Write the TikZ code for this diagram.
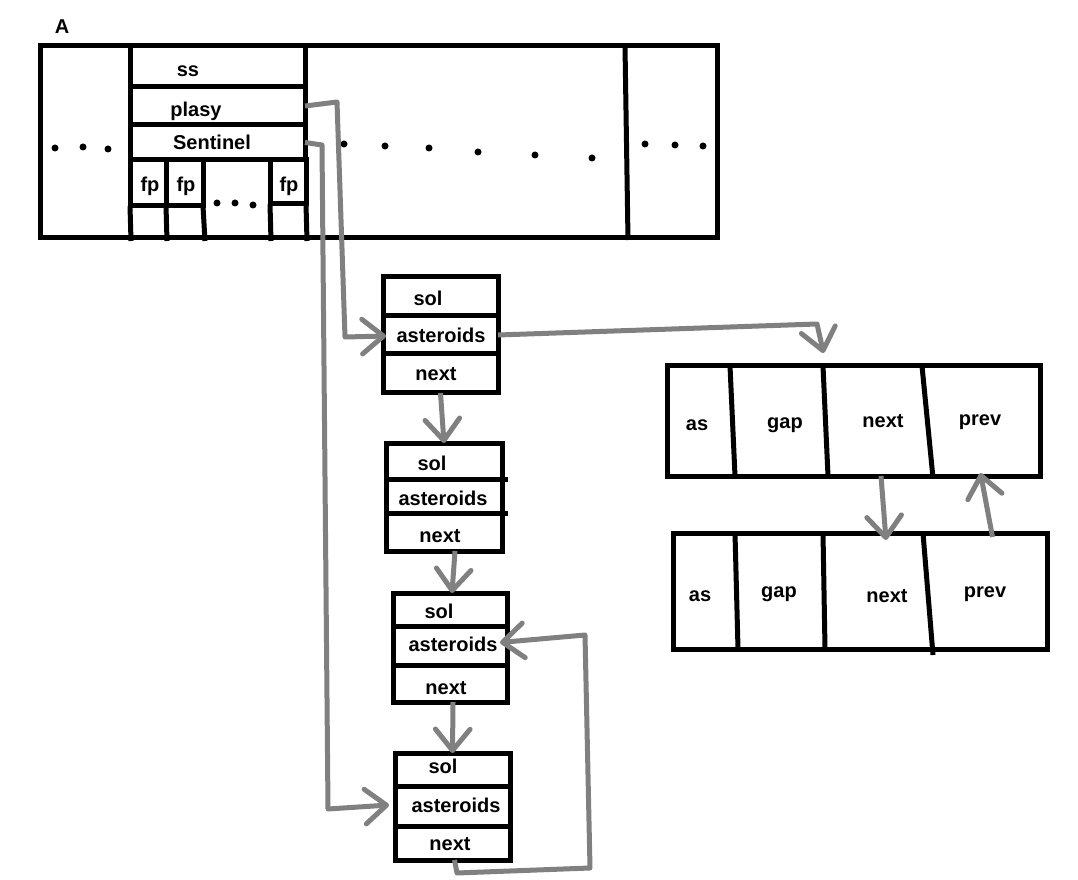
\documentclass[tikz,border=0pt]{standalone}
\usepackage{fontspec}
\setmainfont{Liberation Sans}
\usetikzlibrary{arrows.meta,calc,fit}
\definecolor{arrowgray}{RGB}{128,128,128}
\begin{document}
\begin{tikzpicture}[x=0.75pt,y=-0.75pt,
  cellbox/.style={draw=black, line width=3.75pt, inner sep=0pt, outer sep=0pt},
  ghost/.style={inner sep=0pt, outer sep=0pt},
  blk/.style={draw=black, line width=3.75pt},
  lbl/.style={font=\fontsize{15}{18}\selectfont\bfseries, anchor=base, inner sep=0pt},
  conn/.style={draw=arrowgray, line width=3.75pt, line join=round, -{Straight Barb[length=16pt,width=26pt,round]}},
  blackdot/.style={fill=black, circle, inner sep=0pt, minimum size=5.25pt}
]
\useasboundingbox (0,0) rectangle (1078,880);

% ---------- big structure A ----------
\node[cellbox, fit={(40,46)(717,238)}] (A) {};
\node[cellbox, fit={(130,46)(305,87)}] (ss) {};
\node[cellbox, fit={(130,87)(305,125)}] (plasy) {};
\node[cellbox, fit={(130,125)(305,160)}] (sent) {};
\node[cellbox, fit={(130,160)(166,206)}] (fp1) {};
\node[cellbox, fit={(166,160)(203,206)}] (fp2) {};
\node[cellbox, fit={(270,160)(306,204)}] (fp3) {};
\draw[blk] (130,206)--(131,241) (166,206)--(167,241) (203,206)--(205,241)
           (270,204)--(271,241) (306,204)--(307,241);
\draw[blk] (625,46)--(628,240);

\node[lbl] (tA) at (62,34) {A};
\node[lbl] (tss) at (188,77) {ss};
\node[lbl] (tplasy) at (196,117) {plasy};
\node[lbl] (tsent) at (212,150) {Sentinel};
\node[lbl] (tfp1) at (150,192) {fp};
\node[lbl] (tfp2) at (186,192) {fp};
\node[lbl] (tfp3) at (289,192) {fp};

\foreach \p [count=\i] in {(55,148),(83,147),(108,149),(217,203),(235,203),(253,205),
  (344,144),(385,146),(429,148),(478,152),(535,155),(592,158),(645,144),(675,145),(703,146)}
  \node[blackdot] (d\i) at \p {};

% ---------- list nodes ----------
\node[cellbox, fit={(383,277)(498,316)}] (n1s) {};
\node[cellbox, fit={(383,316)(498,354)}] (n1a) {};
\node[cellbox, fit={(383,354)(498,393)}] (n1n) {};
\node[lbl] (t1s) at (428,306) {sol};
\node[lbl] (t1a) at (441,343) {asteroids};
\node[lbl] (t1n) at (436,381) {next};

\node[cellbox, fit={(386,443)(502,479)}] (n2s) {};
\node[cellbox, fit={(386,479)(502,513)}] (n2a) {};
\node[cellbox, fit={(386,513)(502,551)}] (n2n) {};
\draw[blk] (502,479)--(508,479) (502,513)--(508,513);
\node[lbl] (t2s) at (432,470) {sol};
\node[lbl] (t2a) at (443,505) {asteroids};
\node[lbl] (t2n) at (440,542) {next};

\node[cellbox, fit={(393,593)(507,626)}] (n3s) {};
\node[cellbox, fit={(393,626)(507,665)}] (n3a) {};
\node[cellbox, fit={(393,665)(507,702)}] (n3n) {};
\node[lbl] (t3s) at (439,618) {sol};
\node[lbl] (t3a) at (453,651) {asteroids};
\node[lbl] (t3n) at (446,694) {next};

\node[cellbox, fit={(395,753)(510,786)}] (n4s) {};
\node[cellbox, fit={(395,786)(510,826)}] (n4a) {};
\node[cellbox, fit={(395,826)(510,860)}] (n4n) {};
\draw[blk] (510,786)--(513,786) (510,826)--(513,826);
\node[lbl] (t4s) at (443,773) {sol};
\node[lbl] (t4a) at (456,812) {asteroids};
\node[lbl] (t4n) at (450,850) {next};

% ---------- right structures ----------
\node[cellbox, fit={(667,366)(1040,476)}] (r1) {};
\node[ghost, fit={(667,366)(732,476)}] (r1as) {};
\node[ghost, fit={(732,366)(825,476)}] (r1gap) {};
\node[ghost, fit={(825,366)(927,476)}] (r1next) {};
\node[ghost, fit={(927,366)(1040,476)}] (r1prev) {};
\draw[blk] (730,366)--(735,476) (823,366)--(828,476) (922,366)--(933,478);
\node[lbl] (u1as) at (697,431) {as};
\node[lbl] (u1gap) at (785,428) {gap};
\node[lbl] (u1next) at (883,427) {next};
\node[lbl] (u1prev) at (980,426) {prev};

\node[cellbox, fit={(673,533)(1047,649)}] (r2) {};
\node[ghost, fit={(673,533)(737,649)}] (r2as) {};
\node[ghost, fit={(737,533)(824,649)}] (r2gap) {};
\node[ghost, fit={(824,533)(928,649)}] (r2next) {};
\node[ghost, fit={(928,533)(1047,649)}] (r2prev) {};
\draw[blk] (735,533)--(738,649) (823,533)--(825,649) (923,533)--(933,655);
\node[lbl] (u2as) at (700,601) {as};
\node[lbl] (u2gap) at (779,597) {gap};
\node[lbl] (u2next) at (887,602) {next};
\node[lbl] (u2prev) at (985,597) {prev};

% ---------- connectors ----------
\draw[conn] (plasy.east) -- (337,102) -- (345,337) -- ($(n1a.west)+(3,1)$);
\draw[conn] (sent.east) -- (322,145) -- (328,809) -- ($(n4a.west)+(-6,-1)$);
\draw[conn] (n1a.east) -- (817,324) -- ($(r1.north)+(-30,-13)$);
\draw[conn] (n1n.south) -- (n2s.north);
\draw[conn] ($(n2n.south)+(11,0)$) -- ($(n3s.north)+(2,0)$);
\draw[conn] ($(n3n.south)+(3,0)$) -- (n4s.north);
\draw[conn] ($(n4n.south)+(2,0)$) -- (457,873) -- (590,868) -- (585,635) -- ($(n3a.east)+(-7,-3)$);
\draw[conn] ($(r1next.south)+(5,0)$) -- ($(r2next.north)+(10,7)$);
\draw[conn] ($(r2prev.north)+(5,4)$) -- ($(r1prev.south)+(-3,-3)$);
\end{tikzpicture}
\end{document}
